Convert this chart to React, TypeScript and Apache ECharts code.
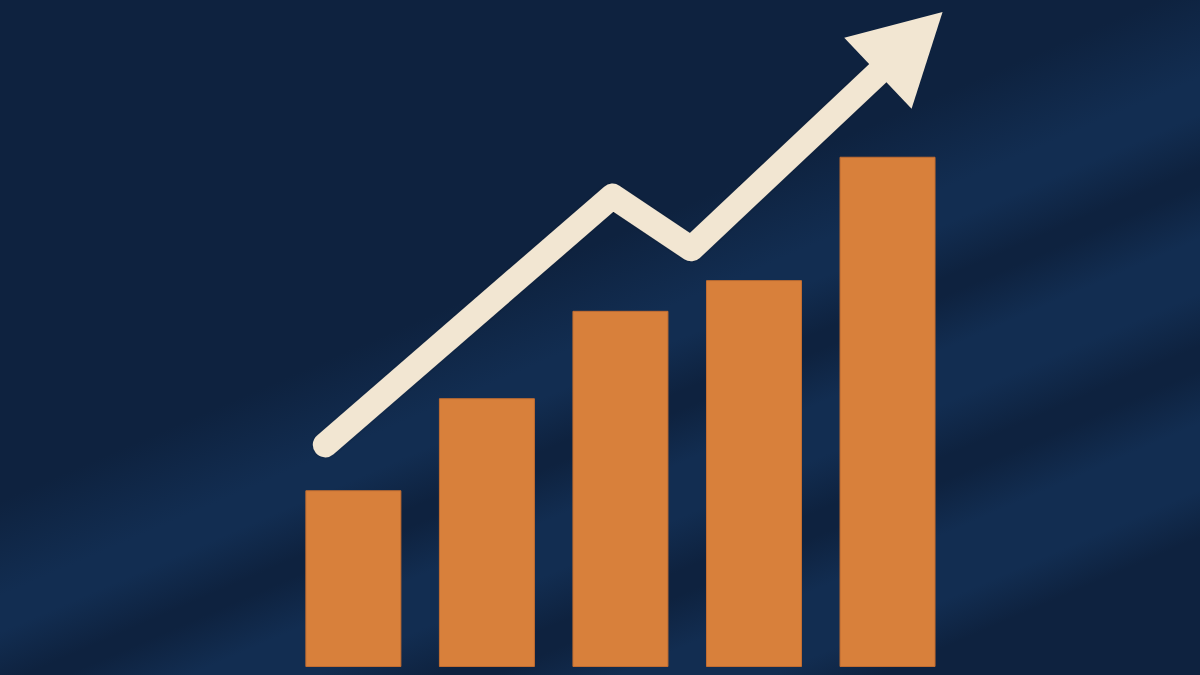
import { useEffect, useRef } from 'react';
import * as echarts from 'echarts';

// bar categories and heights (0-100 scale, baseline at bottom of bars)
const periods = ['P1', 'P2', 'P3', 'P4', 'P5'];
const barValues = [26.5, 40.3, 53.4, 58.0, 76.5];

// trend arrow: x in category-band units (0 = left edge of first band), y on same 0-100 scale
const trendX = [0.29, 2.44, 3.03, 4.67];
const trendY = [33.3, 70.6, 62.7, 93.6];
// arrow head sits on the last trend point
const arrowHeadRotate = -46.6;

const NAVY = '#0e223f';
const NAVY_LIGHT = '#122d51';
const ORANGE = '#d8803b';
const CREAM = '#f2e6d2';

// soft diagonal stripes in the backdrop (offset along the stripe normal, colour)
const stripeStops: [number, string][] = [
  [0, NAVY],
  [0.42, NAVY],
  [0.5, NAVY_LIGHT],
  [0.53, NAVY_LIGHT],
  [0.575, NAVY],
  [0.59, NAVY],
  [0.635, NAVY_LIGHT],
  [0.68, NAVY_LIGHT],
  [0.725, NAVY],
  [0.745, NAVY],
  [0.79, NAVY_LIGHT],
  [0.845, NAVY_LIGHT],
  [0.885, NAVY],
  [1, NAVY],
];

export default function App() {
  const chartRef = useRef<HTMLDivElement>(null);

  useEffect(() => {
    if (!chartRef.current) return;
    const chart = echarts.init(chartRef.current, undefined, { renderer: 'svg' });

    const backdrop = new echarts.graphic.LinearGradient(
      0, 0, 434, 1005,
      stripeStops.map(([offset, color]) => ({ offset, color })),
      true,
    );

    const option: echarts.EChartsOption = {
      animation: false,
      backgroundColor: NAVY,
      graphic: {
        elements: [
          {
            type: 'rect',
            left: 0,
            top: 0,
            z: -10,
            silent: true,
            shape: { width: 1200, height: 675 },
            style: { fill: backdrop as any },
          },
        ],
      },
      grid: { left: 286.6, right: 245.7, top: 0, bottom: 8 },
      xAxis: [
        { type: 'category', data: periods, show: false },
        { type: 'value', min: 0, max: 5, show: false },
      ],
      yAxis: { type: 'value', min: 0, max: 100, show: false },
      series: [
        {
          type: 'bar',
          xAxisIndex: 0,
          data: barValues,
          barWidth: 96,
          itemStyle: { color: ORANGE, borderColor: '#c26d31', borderWidth: 1 },
          silent: true,
        },
        {
          type: 'line',
          xAxisIndex: 1,
          data: trendX.map((x, i) => [x, trendY[i]]),
          symbol: 'none',
          lineStyle: {
            color: CREAM,
            width: 25,
            cap: 'round',
            join: 'round',
            shadowColor: 'rgba(0,0,0,0.25)',
            shadowBlur: 3,
          },
          z: 3,
          silent: true,
        },
        {
          type: 'scatter',
          xAxisIndex: 1,
          data: [[trendX[trendX.length - 1], trendY[trendY.length - 1]]],
          symbol: 'triangle',
          symbolSize: [98, 89],
          symbolRotate: arrowHeadRotate,
          itemStyle: { color: CREAM, opacity: 1 },
          z: 4,
          silent: true,
        },
      ],
    };

    chart.setOption(option);
    return () => chart.dispose();
  }, []);

  return (
    <div
      ref={chartRef}
      style={{ position: 'fixed', left: 0, top: 0, width: 1200, height: 675 }}
    />
  );
}
